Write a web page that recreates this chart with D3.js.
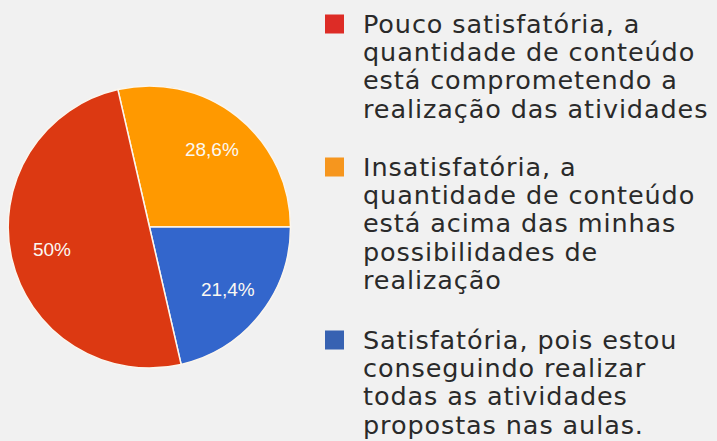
<!DOCTYPE html>
<html>
<head>
<meta charset="utf-8">
<title>Pizza</title>
<script src="https://cdn.jsdelivr.net/npm/d3@7"></script>
<style>
body { margin:0; background:#f1f1f1; }
svg { display:block; }
</style>
</head>
<body>
<div id="chart"></div>
<script>
var categories = ["Pouco satisfatória", "Insatisfatória", "Satisfatória"];
var values = [50, 28.6, 21.4];
var valueLabels = ["50%", "28,6%", "21,4%"];
var legendLines = [
	["Pouco satisfatória, a", "quantidade de conteúdo", "está comprometendo a", "realização das atividades"],
	["Insatisfatória, a", "quantidade de conteúdo", "está acima das minhas", "possibilidades de", "realização"],
	["Satisfatória, pois estou", "conseguindo realizar", "todas as atividades", "propostas nas aulas."]
];
var sliceColors = ["#dc3912", "#ff9900", "#3366cc"];
var keyColors = ["#dd2c26", "#f6961e", "#3762b2"];

var W = 717, H = 441;
var cx = 149.5, cy = 227, r = 141;

var svg = d3.select("#chart").append("svg").attr("width", W).attr("height", H);

// slices run clockwise orange, blue, red; orange ends at 3 o'clock
var order = [1, 2, 0];
var a0 = Math.PI / 2 - values[1] / 100 * 2 * Math.PI;
var pie = d3.pie().sort(null)
	.value(function(i){ return values[i]; })
	.startAngle(a0)
	.endAngle(a0 + 2 * Math.PI);
var arcs = pie(order);

var arc = d3.arc().innerRadius(0).outerRadius(r);
var labelArc = d3.arc().innerRadius(r * 0.71).outerRadius(r * 0.71);

var g = svg.append("g").attr("transform", "translate(" + cx + "," + cy + ")");
g.selectAll("path").data(arcs).enter().append("path")
	.attr("d", arc)
	.attr("fill", function(d){ return sliceColors[d.data]; })
	.attr("stroke", "#fbf6ee")
	.attr("stroke-width", 1.5);

g.selectAll("text").data(arcs).enter().append("text")
	.attr("transform", function(d){ return "translate(" + labelArc.centroid(d) + ")"; })
	.attr("text-anchor", "middle")
	.attr("dy", "0.36em")
	.attr("font-family", "Liberation Sans, Arial, sans-serif")
	.attr("font-size", 19)
	.attr("fill", "#fbf8f2")
	.text(function(d){ return valueLabels[d.data]; });

// legend
var legendTop = [33, 176, 349];
var lineH = 28.2;
var leg = svg.append("g");
categories.forEach(function(c, i){
	var item = leg.append("g").attr("class", "item");
	item.append("rect")
		.attr("x", 325).attr("y", legendTop[i] - 18.5)
		.attr("width", 19).attr("height", 19)
		.attr("fill", keyColors[i]);
	var t = item.append("text")
		.attr("x", 363).attr("y", legendTop[i])
		.attr("font-family", "DejaVu Sans, sans-serif")
		.attr("font-size", 25.5)
		.attr("letter-spacing", 0.9)
		.attr("fill", "#2a2a2a");
	legendLines[i].forEach(function(line, j){
		t.append("tspan").attr("x", 363).attr("y", legendTop[i] + j * lineH).text(line);
	});
});
</script>
</body>
</html>
